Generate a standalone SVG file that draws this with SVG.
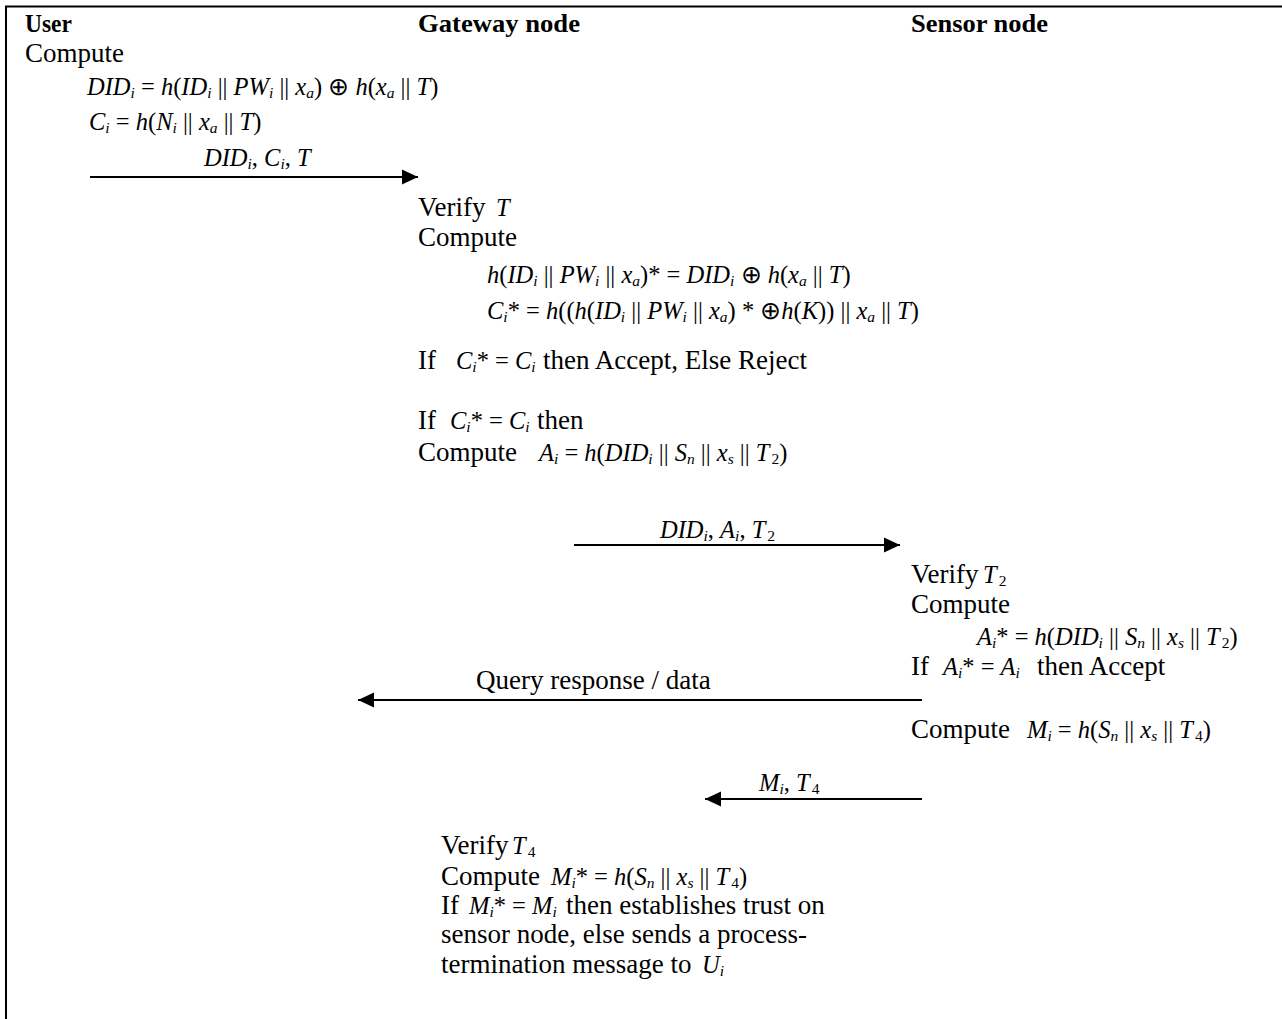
<svg xmlns="http://www.w3.org/2000/svg" width="1282" height="1019" viewBox="0 0 1282 1019">
<style>
.t{font-family:"Liberation Serif","Times New Roman",serif;font-size:27px;fill:#000}
.h{font-family:"Liberation Serif","Times New Roman",serif;font-size:25px;font-weight:bold;fill:#000}
.m{font-family:"Liberation Serif","Times New Roman",serif;font-size:24.5px;font-style:italic;fill:#000}
.u{font-style:normal}
.s{font-size:15.5px;baseline-shift:-3px}
.n{font-size:15.5px;font-style:normal;baseline-shift:-3px}
.ln{stroke:#000;stroke-width:2;fill:none}
.bd{stroke:#000;stroke-width:2;fill:none}
</style>
<defs>
<marker id="ah" markerUnits="userSpaceOnUse" markerWidth="16" markerHeight="16" refX="16" refY="8" orient="auto">
<path d="M0,0.5 L16,8 L0,15.5 z" fill="#000"/>
</marker>
</defs>
<rect width="1282" height="1019" fill="#fff"/>
<g id="frame">
<path class="bd" d="M6,1019 L6,6.5 L1282,6.5"/>
</g>
<g id="user">
<text class="h" x="25" y="32" textLength="47" lengthAdjust="spacingAndGlyphs">User</text>
<text class="t" x="25" y="62">Compute</text>
<text class="m" x="87" y="95">DID<tspan class="s">i</tspan><tspan class="u"> = </tspan>h<tspan class="u">(</tspan>ID<tspan class="s">i</tspan><tspan class="u"> || </tspan>PW<tspan class="s">i</tspan><tspan class="u"> || </tspan>x<tspan class="s">a</tspan><tspan class="u">) ⊕ </tspan>h<tspan class="u">(</tspan>x<tspan class="s">a</tspan><tspan class="u"> || </tspan>T<tspan class="u">)</tspan></text>
<text class="m" x="89" y="130">C<tspan class="s">i</tspan><tspan class="u"> = </tspan>h<tspan class="u">(</tspan>N<tspan class="s">i</tspan><tspan class="u"> || </tspan>x<tspan class="s">a</tspan><tspan class="u"> || </tspan>T<tspan class="u">)</tspan></text>
</g>
<g id="gateway">
<text class="h" x="418" y="32" textLength="162" lengthAdjust="spacingAndGlyphs">Gateway node</text>
<text class="t" x="418" y="216">Verify<tspan class="m" x="496">T</tspan></text>
<text class="t" x="418" y="246">Compute</text>
<text class="m" x="487" y="283">h<tspan class="u">(</tspan>ID<tspan class="s">i</tspan><tspan class="u"> || </tspan>PW<tspan class="s">i</tspan><tspan class="u"> || </tspan>x<tspan class="s">a</tspan><tspan class="u">)* = </tspan>DID<tspan class="s">i</tspan><tspan class="u"> ⊕ </tspan>h<tspan class="u">(</tspan>x<tspan class="s">a</tspan><tspan class="u"> || </tspan>T<tspan class="u">)</tspan></text>
<text class="m" x="487" y="319">C<tspan class="s">i</tspan><tspan class="u">* = </tspan>h<tspan class="u">((</tspan>h<tspan class="u">(</tspan>ID<tspan class="s">i</tspan><tspan class="u"> || </tspan>PW<tspan class="s">i</tspan><tspan class="u"> || </tspan>x<tspan class="s">a</tspan><tspan class="u">) * ⊕</tspan>h<tspan class="u">(</tspan>K<tspan class="u">)) || </tspan>x<tspan class="s">a</tspan><tspan class="u"> || </tspan>T<tspan class="u">)</tspan></text>
<text class="t" x="418" y="369">If<tspan class="m" x="456">C<tspan class="s">i</tspan><tspan class="u">* = </tspan>C<tspan class="s">i</tspan></tspan><tspan x="543">then Accept, Else Reject</tspan></text>
<text class="t" x="418" y="429">If<tspan class="m" x="450">C<tspan class="s">i</tspan><tspan class="u">* = </tspan>C<tspan class="s">i</tspan></tspan><tspan x="537">then</tspan></text>
<text class="t" x="418" y="461">Compute<tspan class="m" x="539">A<tspan class="s">i</tspan><tspan class="u"> = </tspan>h<tspan class="u">(</tspan>DID<tspan class="s">i</tspan><tspan class="u"> || </tspan>S<tspan class="s">n</tspan><tspan class="u"> || </tspan>x<tspan class="s">s</tspan><tspan class="u"> || </tspan>T<tspan class="n" dx="2">2</tspan><tspan class="u">)</tspan></tspan></text>
</g>
<g id="sensor">
<text class="h" x="911" y="32" textLength="137" lengthAdjust="spacingAndGlyphs">Sensor node</text>
<text class="t" x="911" y="583">Verify<tspan class="m" x="983">T<tspan class="n" dx="2">2</tspan></tspan></text>
<text class="t" x="911" y="613">Compute</text>
<text class="m" x="977" y="645">A<tspan class="s">i</tspan><tspan class="u">* = </tspan>h<tspan class="u">(</tspan>DID<tspan class="s">i</tspan><tspan class="u"> || </tspan>S<tspan class="s">n</tspan><tspan class="u"> || </tspan>x<tspan class="s">s</tspan><tspan class="u"> || </tspan>T<tspan class="n" dx="2">2</tspan><tspan class="u">)</tspan></text>
<text class="t" x="911" y="675">If<tspan class="m" x="943">A<tspan class="s">i</tspan><tspan class="u">* = </tspan>A<tspan class="s">i</tspan></tspan><tspan x="1037">then Accept</tspan></text>
<text class="t" x="911" y="738">Compute<tspan class="m" x="1027">M<tspan class="s">i</tspan><tspan class="u"> = </tspan>h<tspan class="u">(</tspan>S<tspan class="s">n</tspan><tspan class="u"> || </tspan>x<tspan class="s">s</tspan><tspan class="u"> || </tspan>T<tspan class="n" dx="2">4</tspan><tspan class="u">)</tspan></tspan></text>
</g>
<g id="gateway-verify">
<text class="t" x="441" y="854">Verify<tspan class="m" x="512">T<tspan class="n" dx="2">4</tspan></tspan></text>
<text class="t" x="441" y="885">Compute<tspan class="m" x="551">M<tspan class="s">i</tspan><tspan class="u">* = </tspan>h<tspan class="u">(</tspan>S<tspan class="s">n</tspan><tspan class="u"> || </tspan>x<tspan class="s">s</tspan><tspan class="u"> || </tspan>T<tspan class="n" dx="2">4</tspan><tspan class="u">)</tspan></tspan></text>
<text class="t" x="441" y="914">If<tspan class="m" x="469">M<tspan class="s">i</tspan><tspan class="u">* = </tspan>M<tspan class="s">i</tspan></tspan><tspan x="566">then establishes trust on</tspan></text>
<text class="t" x="441" y="943">sensor node, else sends a process-</text>
<text class="t" x="441" y="973">termination message to<tspan class="m" x="702">U<tspan class="s">i</tspan></tspan></text>
</g>
<g id="connectors">
<line class="ln" x1="90" y1="177" x2="418" y2="177" marker-end="url(#ah)"/>
<text class="m" x="204" y="166">DID<tspan class="s">i</tspan><tspan class="u">, </tspan>C<tspan class="s">i</tspan><tspan class="u">, </tspan>T</text>
<line class="ln" x1="574" y1="545" x2="900" y2="545" marker-end="url(#ah)"/>
<text class="m" x="660" y="538">DID<tspan class="s">i</tspan><tspan class="u">, </tspan>A<tspan class="s">i</tspan><tspan class="u">, </tspan>T<tspan class="n" dx="2">2</tspan></text>
<line class="ln" x1="922" y1="700" x2="358" y2="700" marker-end="url(#ah)"/>
<text class="t" x="476" y="689">Query response / data</text>
<line class="ln" x1="922" y1="799" x2="705" y2="799" marker-end="url(#ah)"/>
<text class="m" x="759" y="791">M<tspan class="s">i</tspan><tspan class="u">, </tspan>T<tspan class="n" dx="2">4</tspan></text>
</g>
</svg>
